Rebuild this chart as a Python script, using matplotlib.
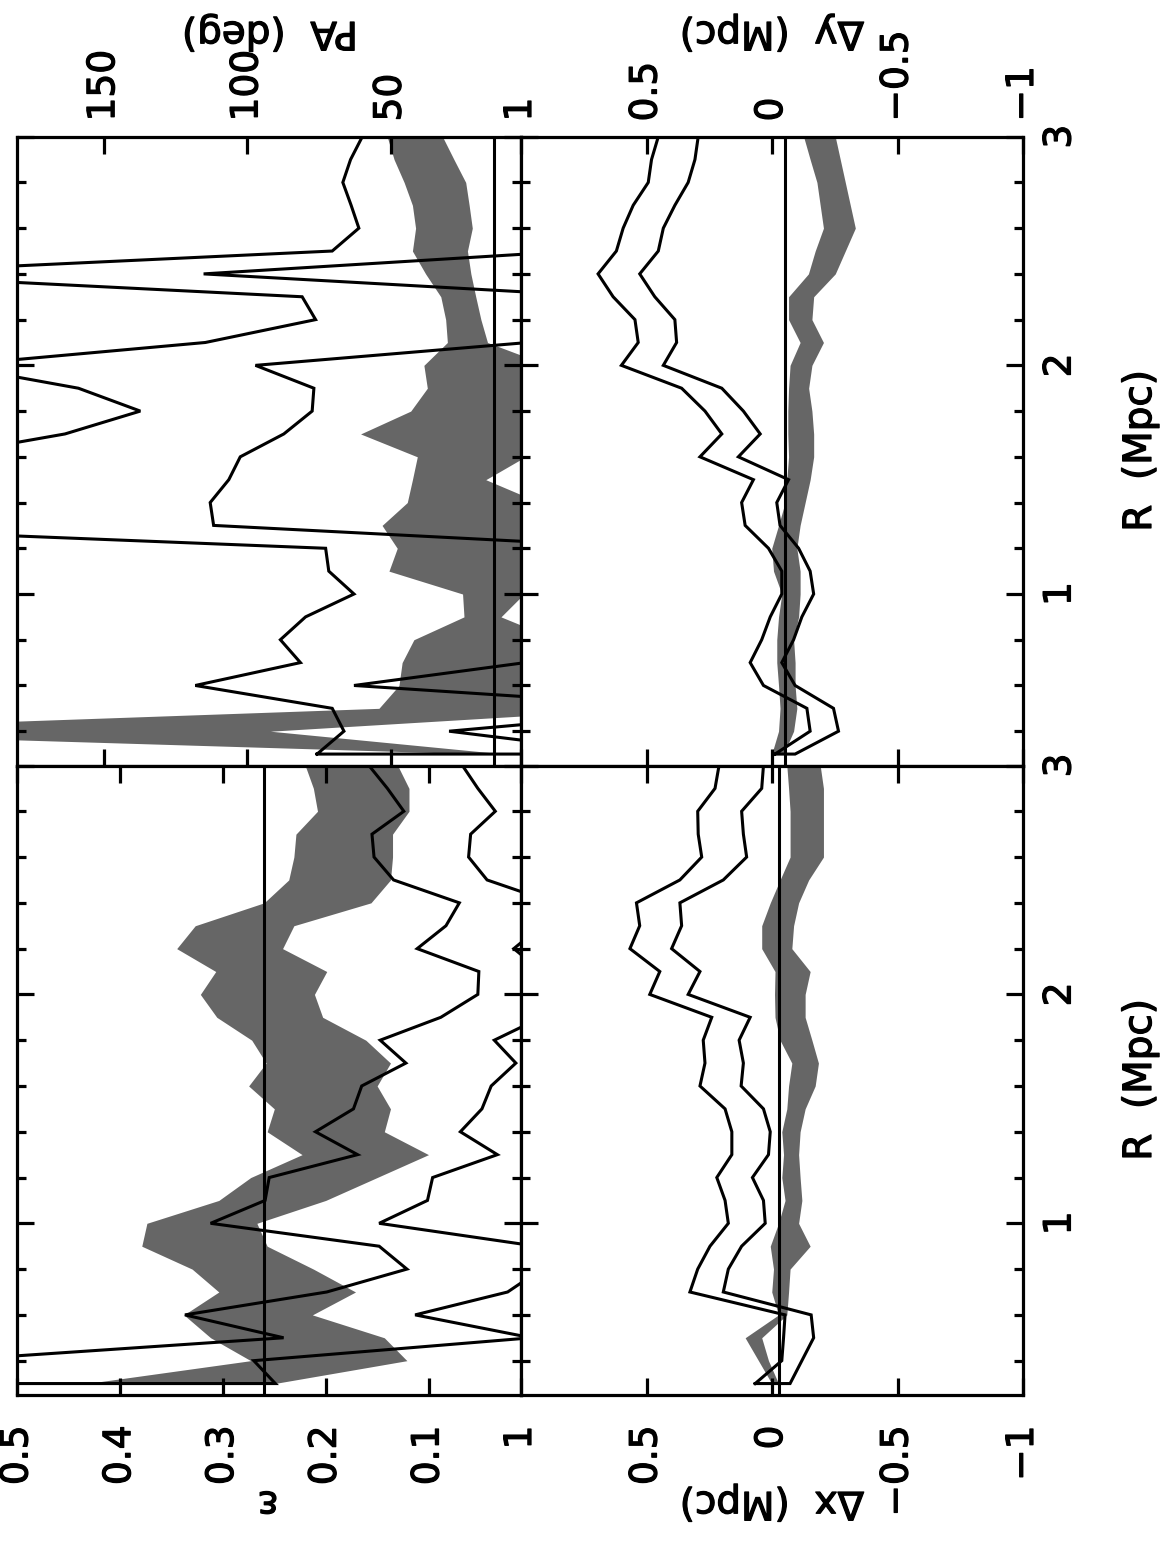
import matplotlib
matplotlib.use('Agg')
import matplotlib.pyplot as plt
import matplotlib.patheffects as pe
from matplotlib.ticker import FixedLocator, MultipleLocator

# --- fonts / global style ---
plt.rcParams['font.family'] = ['DejaVu Sans']
plt.rcParams['font.size'] = 27
plt.rcParams['axes.linewidth'] = 2.3

# --- radius grid (Mpc) ---
R = [0.3, 0.4, 0.5, 0.6, 0.7, 0.8, 0.9, 1.0, 1.1, 1.2, 1.3, 1.4, 1.5, 1.6,
     1.7, 1.8, 1.9, 2.0, 2.1, 2.2, 2.3, 2.4, 2.5, 2.6, 2.7, 2.8, 2.9, 3.0]

# --- position angle (deg) ---
pa_band_lo = [10, 92, -40, -10, -10, -8, 11.5, 3.5, -5, -5, -5, -2, 16.8, 3,
              -5, -5, -5, -5, 16.2, 18.5, 20.3, 22, 23.2, 21.5, 22.6, 23.8, 27.9, 31.9]
pa_band_hi = [17, 280, 54.1, 47.1, 46, 41.9, 24.4, 24.9, 50.6, 47.7, 53, 44.2, 42.4, 40.7,
              60.5, 43, 37.2, 38.4, 30.2, 30.8, 32.5, 37.8, 42.4, 41.3, 42.4, 45.3, 48.8, 51.2]
pa_line_a = [75.7, 66.3, 70.4, 118.2, 81.5, 88.5, 79.7, 62.8, 71.6, 72.7, 273, 260, 240, 209,
             163.7, 137.4, 159, 203, 114.7, 76.2, 80.9, 240, 70.4, 61.1, 63.8, 66.7, 64, 59.9]
pa_line_b = [-35, 29.6, -59, 62.8, 3, -20, -30, -40, -40, -43, 111.8, 113, 106.5, 102.5,
             87.3, 77.4, 76.8, 97.2, 2, -20, -26.8, 115.3, -14.3, -15, -15, -20, -20, -20]
pa_ref = 14

# --- ellipticity ---
eps_band_lo = [0.25, 0.121, 0.143, 0.213, 0.171, 0.212, 0.257, 0.267, 0.200, 0.150, 0.100, 0.143,
               0.137, 0.150, 0.137, 0.161, 0.203, 0.211, 0.199, 0.242, 0.231, 0.156, 0.137,
               0.135, 0.135, 0.119, 0.119, 0.130]
eps_band_hi = [0.433, 0.273, 0.312, 0.338, 0.304, 0.330, 0.379, 0.374, 0.304, 0.273, 0.223, 0.257,
               0.250, 0.275, 0.258, 0.272, 0.306, 0.322, 0.307, 0.345, 0.327, 0.260, 0.236,
               0.231, 0.229, 0.208, 0.212, 0.220]
eps_line_c = [0.60, 0.57, 0.241, 0.337, 0.199, 0.121, 0.148, 0.312, 0.259, 0.255, 0.169, 0.210,
              0.173, 0.165, 0.122, 0.147, 0.088, 0.052, 0.051, 0.111, 0.083, 0.070, 0.134,
              0.153, 0.155, 0.124, 0.140, 0.158]
eps_line_d = [0.249, 0.270, 0.0, 0.113, 0.023, -0.01, -0.005, 0.148, 0.101, 0.096, 0.033, 0.069,
              0.048, 0.039, 0.015, 0.036, -0.01, -0.02, -0.01, 0.017, -0.01, -0.022, 0.043,
              0.061, 0.059, 0.035, 0.052, 0.067]
eps_ref = 0.26

# --- centroid offset dy (Mpc) ---
dy_band_lo = [-0.046, -0.086, -0.099, -0.092, -0.092, -0.086, -0.106, -0.112, -0.112, -0.099,
              -0.112, -0.132, -0.152, -0.166, -0.166, -0.159, -0.146, -0.159, -0.205, -0.159,
              -0.166, -0.252, -0.292, -0.332, -0.312, -0.292, -0.272, -0.252]
dy_band_hi = [0.001, -0.026, -0.032, -0.026, -0.019, -0.019, -0.026, -0.039, -0.006, 0.001,
              -0.026, -0.052, -0.059, -0.066, -0.063, -0.063, -0.066, -0.072, -0.112, -0.066,
              -0.066, -0.145, -0.172, -0.205, -0.192, -0.179, -0.152, -0.126]
dy_line_e = [-0.012, -0.152, -0.139, 0.034, 0.087, 0.041, 0.007, -0.039, -0.039, 0.014, 0.107,
             0.121, 0.074, 0.287, 0.200, 0.267, 0.360, 0.600, 0.533, 0.546, 0.633, 0.693,
             0.620, 0.593, 0.553, 0.493, 0.480, 0.453]
dy_line_f = [-0.092, -0.265, -0.245, -0.092, -0.039, -0.086, -0.119, -0.166, -0.152, -0.106,
             -0.032, -0.019, -0.066, 0.134, 0.047, 0.114, 0.200, 0.433, 0.380, 0.387, 0.467,
             0.527, 0.453, 0.433, 0.387, 0.334, 0.307, 0.294]
dy_ref = -0.052

# --- centroid offset dx (Mpc) ---
dx_band_lo = [-0.026, 0.014, 0.041, -0.059, -0.066, -0.072, -0.152, -0.106, -0.119, -0.112,
              -0.106, -0.112, -0.132, -0.172, -0.185, -0.159, -0.132, -0.132, -0.152, -0.079,
              -0.086, -0.106, -0.146, -0.205, -0.205, -0.205, -0.205, -0.192]
dx_band_hi = [0.001, 0.054, 0.107, -0.026, 0.001, -0.006, 0.007, -0.026, -0.052, -0.039,
              -0.046, -0.039, -0.059, -0.066, -0.079, -0.032, -0.012, -0.010, -0.012, 0.041,
              0.041, 0.007, -0.032, -0.072, -0.072, -0.072, -0.066, -0.059]
dx_line_g = [0.067, -0.039, -0.046, -0.052, 0.327, 0.296, 0.247, 0.174, 0.187, 0.220, 0.160,
             0.160, 0.187, 0.287, 0.267, 0.274, 0.240, 0.487, 0.447, 0.566, 0.527, 0.540,
             0.367, 0.280, 0.294, 0.296, 0.227, 0.211]
dx_line_h = [-0.072, -0.119, -0.166, -0.156, 0.194, 0.174, 0.121, 0.027, 0.034, 0.078, 0.014,
             0.007, 0.034, 0.123, 0.114, 0.131, 0.087, 0.334, 0.287, 0.400, 0.360, 0.367,
             0.194, 0.101, 0.114, 0.121, 0.041, 0.034]
dx_ref = -0.026

# --- tick labels ---
M = '\u2212'
pa_ticks, pa_labels = [150, 100, 50], ['150', '100', '50']
eps_ticks, eps_labels = [0.5, 0.4, 0.3, 0.2, 0.1], ['0.5', '0.4', '0.3', '0.2', '0.1']
d_ticks, d_labels = [1, 0.5, 0, -0.5, -1], ['1', '0.5', '0', M + '0.5', M + '1']
r_ticks, r_labels = [1, 2, 3], ['1', '2', '3']

GRAY = '#666666'
LW = 2.2
W, H = 1161, 1557
THICK = [pe.withStroke(linewidth=0.9, foreground='black')]

# figure is drawn already turned on its side: value runs right-to-left, R runs upward
fig = plt.figure(figsize=(W / 100, H / 100), dpi=100)

x0, xm, x1 = 17.4 / W, 521.0 / W, 1023.0 / W
yb, ym, yt = 1 - 1395.0 / H, 1 - 765.5 / H, 1 - 136.7 / H

ax_pa = fig.add_axes([x0, ym, xm - x0, yt - ym])
ax_dy = fig.add_axes([xm, ym, x1 - xm, yt - ym])
ax_e = fig.add_axes([x0, yb, xm - x0, ym - yb])
ax_dx = fig.add_axes([xm, yb, x1 - xm, ym - yb])


def draw_panel(ax, lo, hi, l1, l2, ref, xlim):
    ax.fill_betweenx(R, lo, hi, color=GRAY, lw=0, zorder=1)
    ax.axvline(ref, color='k', lw=LW, zorder=2)
    xs = list(l1) + list(l2[::-1]) + [l1[0]]
    ys = R + R[::-1] + [R[0]]
    ax.plot(xs, ys, color='k', lw=LW, zorder=3, solid_joinstyle='miter')
    ax.set_xlim(*xlim)
    ax.set_ylim(0.25, 3.0)
    ax.yaxis.set_major_locator(FixedLocator(r_ticks))
    ax.yaxis.set_minor_locator(MultipleLocator(0.2))
    ax.tick_params(which='both', direction='in', left=True, right=True,
                   top=True, bottom=True, width=2.3,
                   labelleft=False, labelright=False,
                   labeltop=False, labelbottom=False)
    ax.tick_params(which='major', length=12.5)
    ax.tick_params(axis='y', which='minor', length=6.5)


draw_panel(ax_pa, pa_band_lo, pa_band_hi, pa_line_a, pa_line_b, pa_ref, (180.3, 4.5))
draw_panel(ax_dy, dy_band_lo, dy_band_hi, dy_line_e, dy_line_f, dy_ref, (1, -1))
draw_panel(ax_e, eps_band_lo, eps_band_hi, eps_line_c, eps_line_d, eps_ref, (0.5, 0.01))
draw_panel(ax_dx, dx_band_lo, dx_band_hi, dx_line_g, dx_line_h, dx_ref, (1, -1))

# value-axis tick labels (top row and bottom row)
for ax, ticks, labels, where in [(ax_pa, pa_ticks, pa_labels, 'top'),
                                 (ax_dy, d_ticks, d_labels, 'top'),
                                 (ax_e, eps_ticks, eps_labels, 'bottom'),
                                 (ax_dx, d_ticks, d_labels, 'bottom')]:
    ax.set_xticks(ticks)
    ax.set_xticklabels(labels)
    if where == 'top':
        ax.tick_params(axis='x', labeltop=True, labelrotation=90, pad=11)
    else:
        ax.tick_params(axis='x', labelbottom=True, labelrotation=90, pad=22)
    for lbl in ax.get_xticklabels():
        lbl.set_path_effects(THICK)

# R tick labels on the right
for ax in (ax_dy, ax_dx):
    ax.set_yticks(r_ticks)
    ax.set_yticklabels(r_labels)
    ax.tick_params(axis='y', labelright=True, labelrotation=90, pad=14)
    for lbl in ax.get_yticklabels():
        lbl.set_va('center')
        lbl.set_path_effects(THICK)

# axis titles
def ftext(x, y, s, rot):
    fig.text(x / W, 1 - y / H, s, rotation=rot, ha='center', va='center',
             fontsize=28, path_effects=THICK)

ftext(268, 1503, '\u03b5', 180)
ftext(772, 1503, '\u0394x  (Mpc)', 180)
ftext(270, 33, 'PA  (deg)', 180)
ftext(772, 33, '\u0394y  (Mpc)', 180)
ftext(1140, 451, 'R  (Mpc)', 90)
ftext(1140, 1080, 'R  (Mpc)', 90)

fig.savefig('out.png', dpi=100)
